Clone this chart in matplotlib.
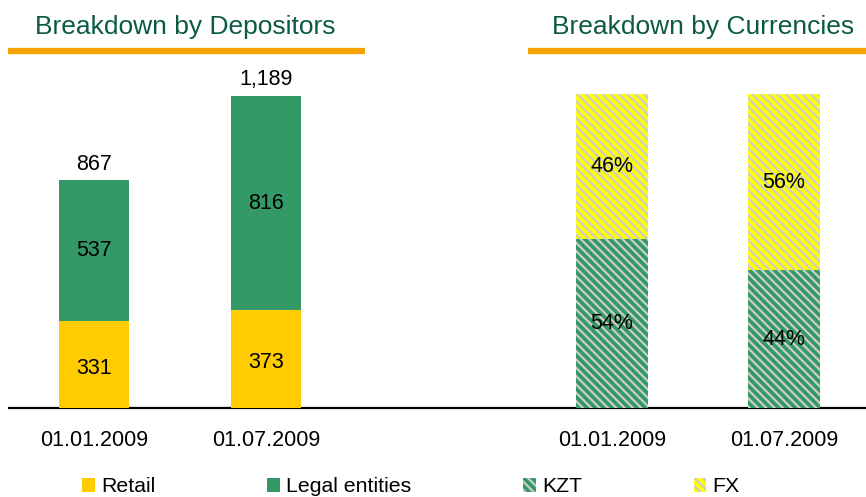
import matplotlib
matplotlib.use("Agg")
from matplotlib import pyplot as plt

plt.rcParams['font.family'] = ['Liberation Sans', 'DejaVu Sans']
plt.rcParams['hatch.color'] = '#cdcdc8'
plt.rcParams['hatch.linewidth'] = 1.6

# data
dates = ['01.01.2009', '01.07.2009']
retail = [331, 373]
legal = [537, 816]
totals = ['867', '1,189']
kzt = [54, 44]
fx = [46, 56]

yellow = '#ffcc00'
green = '#339966'
title_green = '#0b5a46'
orange = '#f5a300'

fig = plt.figure(figsize=(8.66, 4.97), dpi=100)

# background axes in pixel coords for decorations
bg = fig.add_axes([0, 0, 1, 1])
bg.set_xlim(0, 866)
bg.set_ylim(497, 0)
bg.axis('off')
bg.plot([8, 866], [408, 408], color='black', lw=1.6, solid_capstyle='butt')
bg.plot([8, 365], [51, 51], color=orange, lw=4.5, solid_capstyle='butt')
bg.plot([528, 866], [51, 51], color=orange, lw=4.5, solid_capstyle='butt')
bg.text(185, 27, 'Breakdown by Depositors', color=title_green, fontsize=19,
        ha='center', va='center')
bg.text(703, 27, 'Breakdown by Currencies', color=title_green, fontsize=19,
        ha='center', va='center')

# left chart
ax1 = fig.add_axes([8 / 866, 89 / 497, 357 / 866, 348 / 497])
x = [0, 1]
b_ret = ax1.bar(x, retail, width=0.41, color=yellow, label='Retail')
b_leg = ax1.bar(x, legal, width=0.41, bottom=retail, color=green, label='Legal entities')
ax1.set_xlim(-0.5, 1.576)
ax1.set_ylim(0, 1326)
for i in x:
    ax1.text(i, retail[i] / 2 - 15, str(retail[i]), ha='center', va='center', fontsize=15.5)
    ax1.text(i, retail[i] + legal[i] / 2, str(legal[i]), ha='center', va='center', fontsize=15.5)
    ax1.annotate(totals[i], (i, retail[i] + legal[i]), xytext=(0, 16),
                 textcoords='offset pixels', ha='center', va='center', fontsize=15.5)
ax1.axis('off')
for i in x:
    bg.text(94 + 172 * i, 440, dates[i], ha='center', va='center', fontsize=15.5)

# right chart
ax2 = fig.add_axes([528 / 866, 89 / 497, 338 / 866, 348 / 497])
b_kzt = ax2.bar(x, kzt, width=0.42, color=green, hatch='\\\\\\\\', lw=0, label='KZT')
b_fx = ax2.bar(x, fx, width=0.42, bottom=kzt, color='#ffff00', hatch='\\\\\\\\', lw=0, label='FX')
ax2.set_xlim(-0.488, 1.477)
ax2.set_ylim(0, 111)
for i in x:
    ax2.text(i, kzt[i] / 2, '%d%%' % kzt[i], ha='center', va='center', fontsize=15.5)
    ax2.text(i, kzt[i] + fx[i] / 2, '%d%%' % fx[i], ha='center', va='center', fontsize=15.5)
ax2.axis('off')
for i in x:
    bg.text(612 + 172 * i, 440, dates[i], ha='center', va='center', fontsize=15.5)

handles = [b_ret, b_leg, b_kzt, b_fx]
labels = ['Retail', 'Legal entities', 'KZT', 'FX']
fig.legend(handles, labels, ncol=4, loc='center left', bbox_to_anchor=(82 / 866, 1 - 487 / 497),
           frameon=False, fontsize=15.3, columnspacing=5.25, handlelength=0.6, handleheight=0.6,
           handletextpad=0.3, borderpad=0, borderaxespad=0)

fig.savefig('out.png', dpi=100)
